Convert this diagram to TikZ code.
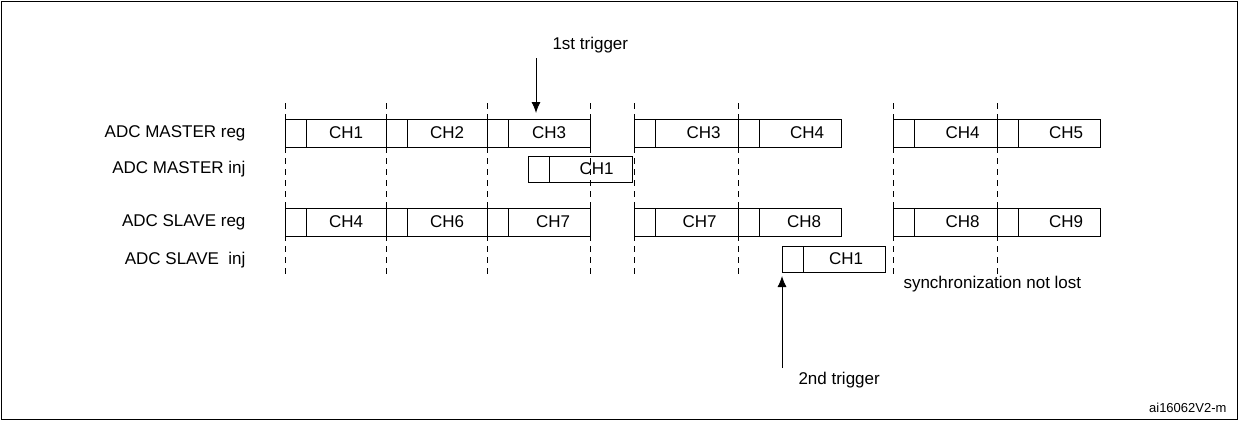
\documentclass[tikz,border=0pt]{standalone}
\usepackage{fontspec}
\setmainfont{Liberation Sans}
\usetikzlibrary{arrows.meta}
\begin{document}
\begin{tikzpicture}[x=1pt,y=-1pt,font=\fontsize{17}{19}\selectfont,
  dl/.style={dash pattern=on 6pt off 5pt,line width=0.9pt},
  bx/.style={draw,line width=0.9pt},
  lbl/.style={anchor=east}]
\useasboundingbox (0,0) rectangle (1239,421);
\draw[line width=0.9pt] (1.5,1.5) rectangle (1237.5,419.5);
% dashed lines
\foreach \x in {285,386,487,590,634,738,893,997}
  \draw[dl] (\x,103) -- (\x,275);
% row boxes
\newcommand{\cell}[5]{% x1,x2,ytop,ybot,text
  \draw[bx] (#1,#3) rectangle (#2,#4);
  \draw[bx] (#1+21,#3) -- (#1+21,#4);
  \node at ({(#1+21+#2)/2},{(#3+#4)/2}) {#5};}
\cell{285}{386}{119}{147}{CH1}
\cell{386}{487}{119}{147}{CH2}
\cell{487}{590}{119}{147}{CH3}
\cell{634}{738}{119}{147}{\hspace{14pt}CH3}
\cell{738}{841}{119}{147}{\hspace{14pt}CH4}
\cell{893}{997}{119}{147}{\hspace{14pt}CH4}
\cell{997}{1100}{119}{147}{\hspace{14pt}CH5}
\cell{285}{386}{208}{236}{CH4}
\cell{386}{487}{208}{236}{CH6}
\cell{487}{590}{208}{236}{\hspace{8pt}CH7}
\cell{634}{738}{208}{236}{\hspace{6pt}CH7}
\cell{738}{841}{208}{236}{\hspace{8pt}CH8}
\cell{893}{997}{208}{236}{\hspace{14pt}CH8}
\cell{997}{1100}{208}{236}{\hspace{14pt}CH9}
\cell{528}{632}{156}{182}{\hspace{12pt}CH1}
\cell{782}{885}{246}{272}{\hspace{4pt}CH1}
% labels
\node[lbl] (l1) at (249,133) {ADC MASTER reg};
\node[lbl] (l2) at (249,169) {ADC MASTER inj};
\node[lbl] (l3) at (249,222) {ADC SLAVE reg};
\node[lbl] (l4) at (249,260) {ADC SLAVE\ \ inj};
% triggers
\node[anchor=west] (t1) at (549,45) {1st trigger};
\coordinate (a1s) at (536,58);
\coordinate (a1e) at (536,113);
\draw[line width=0.9pt,-{Latex[length=11pt,width=9pt]}] (a1s) -- (a1e);
\node[anchor=west] (t2) at (795,380) {2nd trigger};
\coordinate (a2s) at (782,368);
\coordinate (a2e) at (782,276);
\draw[line width=0.9pt,-{Latex[length=11pt,width=9pt]}] (a2s) -- (a2e);
\node[anchor=west] (s) at (900,284) {synchronization not lost};
\node[anchor=east,font=\fontsize{13}{15}\selectfont] (id) at (1230,408) {ai16062V2-m};
\end{tikzpicture}
\end{document}
